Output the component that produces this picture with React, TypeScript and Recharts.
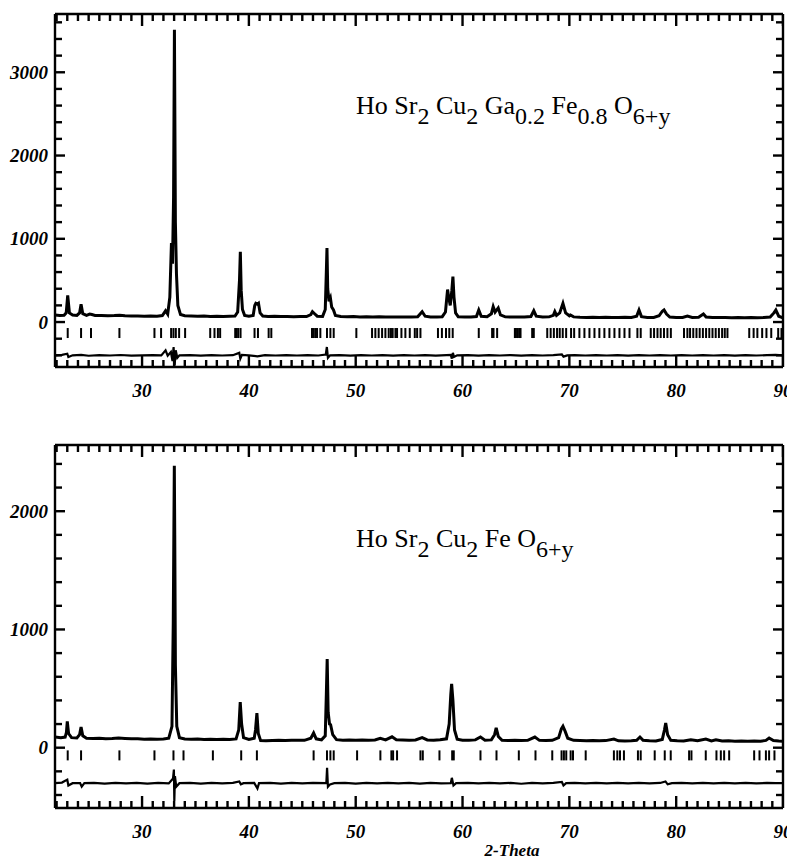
import React from 'react';
import { ComposedChart, Line, Scatter, XAxis, YAxis } from 'recharts';

// ---------- DATA ----------
const X_DOMAIN: [number, number] = [21.85, 90];
const X_TICKS: number[] = Array.from({ length: 69 }, (_, i) => 22 + i);
const X_LABELS: number[] = [30, 40, 50, 60, 70, 80, 90];

const TOP_Y_DOMAIN: [number, number] = [-540, 3700];
const TOP_Y_TICKS: number[] = Array.from({ length: 21 }, (_, i) => -400 + i * 200);
const TOP_Y_LABELS: number[] = [0, 1000, 2000, 3000];

const BOT_Y_DOMAIN: [number, number] = [-510, 2560];
const BOT_Y_TICKS: number[] = Array.from({ length: 15 }, (_, i) => -400 + i * 200);
const BOT_Y_LABELS: number[] = [0, 1000, 2000];

// HoSr2Cu2Ga0.2Fe0.8O6+y : observed/calculated profile [2theta, counts]
const topProfile: [number, number][] = [
  [21.85, 85], [22.3, 80], [22.7, 82], [22.9, 110], [23.04, 320], [23.2, 110], [23.5, 85], [23.9, 80],
  [24.15, 110], [24.29, 215], [24.45, 100], [24.8, 80], [25.1, 95], [25.3, 90], [25.6, 78], [26.2, 80],
  [26.8, 75], [27.4, 78], [27.9, 82], [28.4, 75], [29, 72], [29.6, 74], [30.2, 70], [30.8, 72], [31.4, 70],
  [31.9, 78], [32.2, 135], [32.4, 95], [32.6, 300], [32.75, 950], [32.85, 700], [32.95, 1500], [33.03, 3510],
  [33.12, 1200], [33.22, 580], [33.35, 200], [33.6, 90], [34.0, 75], [34.6, 72], [35.2, 70], [35.8, 72],
  [36.4, 68], [37, 70], [37.6, 68], [38.2, 70], [38.7, 72], [38.95, 120], [39.12, 500], [39.2, 845],
  [39.28, 380], [39.4, 150], [39.6, 80], [40.0, 70], [40.4, 80], [40.55, 200], [40.65, 225], [40.8, 215],
  [40.9, 225], [41.05, 110], [41.3, 72], [41.8, 68], [42.4, 70], [43, 66], [43.6, 68], [44.2, 65], [44.8, 68],
  [45.4, 66], [45.8, 90], [45.95, 125], [46.15, 100], [46.4, 70], [46.9, 68], [47.15, 150], [47.25, 600],
  [47.31, 890], [47.38, 400], [47.5, 250], [47.63, 290], [47.75, 180], [47.92, 145], [48.1, 80], [48.6, 66],
  [49.2, 64], [49.8, 66], [50.4, 62], [51, 64], [51.6, 60], [52.2, 64], [52.8, 62], [53.4, 60], [54, 62],
  [54.6, 60], [55.2, 62], [55.8, 64], [56.22, 125], [56.5, 70], [57, 60], [57.6, 62], [58.1, 64], [58.4, 120],
  [58.6, 390], [58.7, 300], [58.85, 200], [59.0, 380], [59.1, 545], [59.2, 300], [59.35, 110], [59.6, 62],
  [60.2, 60], [60.8, 62], [61.3, 66], [61.52, 145], [61.75, 70], [62.3, 64], [62.7, 100], [62.87, 185],
  [63.05, 120], [63.34, 170], [63.55, 85], [64, 62], [64.6, 60], [65.2, 62], [65.8, 60], [66.4, 66],
  [66.67, 135], [66.9, 70], [67.5, 60], [68.1, 62], [68.5, 80], [68.64, 125], [68.8, 80], [69.1, 110],
  [69.4, 225], [69.65, 110], [70.0, 75], [70.1, 85], [70.4, 62], [71, 58], [71.6, 56], [72.2, 58], [72.8, 56],
  [73.4, 58], [74, 55], [74.6, 56], [75.2, 58], [75.8, 56], [76.3, 70], [76.52, 145], [76.75, 65], [77.3, 56],
  [77.9, 56], [78.4, 75], [78.7, 130], [78.86, 145], [79.1, 95], [79.4, 60], [80, 55], [80.6, 56], [81.05, 72],
  [81.5, 56], [82.1, 58], [82.55, 96], [82.8, 60], [83.4, 56], [84, 54], [84.6, 55], [85.2, 52], [85.8, 54],
  [86.4, 52], [87, 54], [87.6, 52], [88.2, 55], [88.8, 60], [89.15, 110], [89.33, 145], [89.6, 70], [90, 50],
];

const topDifference: [number, number][] = [
  [21.85, -400], [22.5, -395], [23.0, -380], [23.1, -420], [23.5, -400], [24.3, -395], [25, -405], [26, -398],
  [27, -402], [28, -396], [29, -404], [30, -400], [31, -398], [31.8, -400], [32.2, -340], [32.4, -405],
  [32.7, -360], [32.85, -470], [32.95, -300], [33.05, -520], [33.15, -340], [33.3, -430], [33.5, -400],
  [34.5, -398], [35.5, -404], [36.5, -398], [37.5, -402], [38.5, -398], [39.1, -370], [39.2, -440],
  [39.35, -395], [40, -400], [40.8, -412], [41.5, -398], [42.5, -402], [43.5, -398], [44.5, -402],
  [45.5, -398], [46.5, -402], [47.2, -390], [47.3, -300], [47.4, -430], [47.6, -400], [48.5, -398],
  [49.5, -403], [50.5, -398], [51.5, -402], [52.5, -397], [53.5, -403], [54.5, -398], [55.5, -402],
  [56.5, -398], [57.5, -403], [58.5, -398], [58.9, -395], [59.0, -440], [59.1, -370], [59.2, -420],
  [59.5, -400], [60.5, -398], [61.5, -403], [62.5, -398], [63.5, -402], [64.5, -397], [65.5, -403],
  [66.5, -398], [67.5, -402], [68.5, -398], [69.3, -390], [69.45, -415], [69.8, -400], [70.5, -398],
  [71.5, -402], [72.5, -398], [73.5, -402], [74.5, -397], [75.5, -403], [76.5, -398], [77.5, -402],
  [78.5, -398], [79.5, -402], [80.5, -398], [81.5, -402], [82.5, -398], [83.5, -402], [84.5, -397],
  [85.5, -403], [86.5, -398], [87.5, -402], [88.5, -398], [89.3, -395], [90, -400],
];

const topBragg: number[] = [
  23.04, 24.29, 25.22, 27.88, 31.16, 31.78, 32.72, 32.94, 33.16, 33.47, 34.03, 36.38, 36.78, 37.1, 37.31,
  38.72, 38.85, 39.0, 39.22, 40.53, 40.85, 41.85, 42.1, 45.91, 46.06, 46.22, 46.38, 46.69, 47.31, 47.63,
  47.94, 50.06, 51.53, 51.84, 52.15, 52.47, 52.78, 53.09, 53.3, 53.46, 53.72, 53.87, 54.28, 54.65, 55.06,
  55.53, 55.75, 56.06, 57.7, 58.07, 58.45, 58.76, 59.08, 61.52, 62.77, 62.9, 63.24, 64.9, 65.0, 65.15,
  65.3, 65.43, 66.52, 66.67, 67.93, 68.25, 68.55, 68.85, 69.1, 69.38, 69.7, 70.16, 70.45, 70.94, 71.41,
  71.88, 72.35, 72.81, 73.28, 73.75, 74.22, 74.69, 75.16, 75.63, 76.37, 76.68, 77.62, 77.93, 78.25, 78.55,
  78.86, 79.18, 79.5, 80.73, 81.05, 81.3, 81.6, 81.9, 82.2, 82.5, 82.8, 83.1, 83.4, 83.7, 84.0, 84.3,
  84.55, 84.8, 86.84, 87.25, 87.6, 88.05, 88.45, 88.9, 89.55, 89.86,
];

// HoSr2Cu2FeO6+y
const botProfile: [number, number][] = [
  [21.85, 90], [22.4, 85], [22.8, 90], [22.92, 130], [23.0, 222], [23.12, 120], [23.4, 85], [23.9, 82],
  [24.15, 110], [24.29, 175], [24.45, 100], [24.8, 80], [25.4, 78], [26, 80], [26.6, 76], [27.2, 78],
  [27.8, 82], [28.4, 78], [29, 75], [29.6, 76], [30.2, 72], [30.8, 74], [31.4, 72], [32, 74], [32.5, 80],
  [32.8, 180], [32.92, 1050], [32.98, 1860], [33.02, 2385], [33.06, 1800], [33.12, 700], [33.25, 180],
  [33.5, 85], [34, 74], [34.6, 72], [35.2, 74], [35.8, 70], [36.4, 72], [37, 70], [37.6, 72], [38.2, 70],
  [38.8, 74], [39.05, 150], [39.19, 385], [39.32, 200], [39.5, 85], [40, 70], [40.5, 80], [40.62, 150],
  [40.75, 292], [40.88, 120], [41.1, 60], [41.6, 58], [42.2, 60], [42.8, 62], [43.4, 60], [44, 62],
  [44.6, 64], [45.2, 62], [45.8, 80], [46.06, 124], [46.3, 75], [46.8, 66], [47.15, 100], [47.25, 450],
  [47.33, 750], [47.42, 300], [47.55, 200], [47.65, 195], [47.85, 110], [48.2, 68], [48.8, 64], [49.4, 66],
  [50, 64], [50.6, 66], [51.2, 64], [51.8, 66], [52.3, 80], [52.8, 66], [53.4, 92], [53.8, 68], [54.4, 66],
  [55, 64], [55.6, 66], [56.22, 85], [56.7, 66], [57.3, 64], [57.9, 68], [58.5, 75], [58.75, 200],
  [58.9, 450], [58.98, 540], [59.1, 400], [59.25, 150], [59.5, 72], [60, 64], [60.6, 62], [61.2, 66],
  [61.68, 90], [62.1, 64], [62.7, 66], [63.0, 110], [63.15, 168], [63.35, 95], [63.7, 62], [64.3, 60],
  [64.9, 62], [65.5, 60], [66.1, 62], [66.77, 90], [67.2, 62], [67.8, 60], [68.4, 62], [69.0, 85],
  [69.25, 160], [69.4, 182], [69.6, 140], [69.85, 80], [70.4, 62], [71, 60], [71.6, 58], [72.2, 60],
  [72.8, 58], [73.4, 60], [74.17, 73], [74.6, 58], [75.2, 56], [75.8, 58], [76.3, 62], [76.61, 90],
  [76.9, 62], [77.5, 58], [78.1, 56], [78.7, 70], [78.9, 150], [79.02, 208], [79.2, 110], [79.5, 62],
  [80.1, 58], [80.7, 56], [81.37, 67], [82, 58], [82.78, 73], [83.3, 58], [83.72, 67], [84.3, 56],
  [84.9, 58], [85.5, 55], [86.1, 57], [86.7, 55], [87.3, 57], [87.9, 55], [88.4, 62], [88.7, 82],
  [89.1, 60], [89.6, 56], [90, 55],
];

const botDifference: [number, number][] = [
  [21.85, -300], [22.5, -295], [23.0, -270], [23.1, -320], [23.5, -300], [24.2, -300], [24.35, -330],
  [24.6, -300], [25.5, -298], [26.5, -303], [27.5, -297], [28.5, -302], [29.5, -298], [30.5, -303],
  [31.5, -298], [32.5, -302], [32.9, -260], [32.98, -185], [33.02, -450], [33.08, -240], [33.2, -330],
  [33.5, -300], [34.5, -297], [35.5, -303], [36.5, -298], [37.5, -302], [38.5, -298], [39.1, -285],
  [39.25, -310], [39.5, -300], [40.5, -298], [40.8, -345], [40.95, -300], [42, -298], [43, -303],
  [44, -298], [45, -302], [46, -298], [47.25, -300], [47.32, -170], [47.4, -330], [47.6, -310], [48, -300],
  [49, -298], [50, -303], [51, -298], [52, -302], [53, -298], [54, -302], [55, -297], [56, -303],
  [57, -298], [58, -302], [58.9, -300], [59.0, -255], [59.15, -320], [59.4, -300], [60.5, -298],
  [61.5, -302], [62.5, -298], [63.5, -302], [64.5, -298], [65.5, -305], [66.5, -298], [67.5, -302],
  [68.5, -298], [69.3, -290], [69.45, -320], [69.7, -300], [70.5, -298], [71.5, -302], [72.5, -298],
  [73.5, -302], [74.5, -298], [75.5, -302], [76.5, -298], [77.5, -302], [78.5, -298], [79.0, -285],
  [79.2, -310], [79.6, -300], [80.5, -298], [81.5, -302], [82.5, -298], [83.5, -302], [84.5, -298],
  [85.5, -302], [86.5, -298], [87.5, -302], [88.5, -298], [89.3, -300], [90, -300],
];

const botBragg: number[] = [
  23.04, 24.29, 27.88, 31.16, 32.94, 33.88, 36.63, 39.28, 40.75, 46.06, 47.31, 47.63, 47.94, 50.13,
  52.31, 53.34, 53.5, 53.87, 56.06, 56.28, 57.84, 59.03, 59.18, 61.68, 63.18, 65.27, 66.83, 68.4, 69.27,
  69.49, 69.71, 70.12, 70.34, 71.53, 74.17, 74.49, 74.74, 75.11, 76.42, 76.68, 77.99, 78.93, 79.49, 81.21,
  81.43, 82.77, 83.77, 84.18, 84.49, 84.96, 87.3, 87.8, 88.4, 88.7, 89.2,
];

const TOP_BRAGG_LEVEL = -132;
const BOT_BRAGG_LEVEL = -65;

// ---------- RENDER HELPERS ----------
const FONT = '"Liberation Serif", "Times New Roman", serif';
const toPoints = (arr: [number, number][]) => arr.map(([x, y]) => ({ x, y }));
const toBragg = (arr: number[], level: number) => arr.map((x) => ({ x, y: level }));

const labelStyle = {
  fontFamily: FONT,
  fontStyle: 'italic' as const,
  fontWeight: 700,
  fontSize: 19,
  fill: '#000',
};

const XLabel = (props: any) => {
  const { x, y, payload } = props;
  const v = payload.value;
  if (!X_LABELS.includes(v)) return <g />;
  return (
    <text x={x} y={Number(y) + 23} textAnchor="middle" dominantBaseline="central" style={labelStyle}>
      {v}
    </text>
  );
};

const makeYLabel = (labels: number[]) => (props: any) => {
  const { x, y, payload } = props;
  const v = payload.value;
  if (!labels.includes(v)) return <g />;
  return (
    <text x={Number(x) - 7} y={y} textAnchor="end" dominantBaseline="central" style={labelStyle}>
      {v}
    </text>
  );
};

// frame tick marks (drawn inward), positioned through the chart scales
const frameTick = (side: 'bottom' | 'top' | 'left' | 'right') => (props: any) => {
  const { cx, cy, payload } = props;
  let x2 = cx;
  let y2 = cy;
  if (side === 'bottom' || side === 'top') {
    const len = payload && payload.x % 10 === 0 ? 12 : 7;
    y2 = side === 'bottom' ? cy - len : cy + len;
  } else {
    const len = payload && payload.y % 1000 === 0 ? 10 : 7;
    x2 = side === 'left' ? cx + len : cx - len;
  }
  return <line x1={cx} y1={cy} x2={x2} y2={y2} stroke="#000" strokeWidth={2.4} />;
};

const BraggTick = (props: any) => {
  const { cx, cy } = props;
  return <line x1={cx} x2={cx} y1={cy - 5} y2={cy + 5} stroke="#000" strokeWidth={2} />;
};

interface PanelProps {
  height: number;
  marginTop: number;
  xAxisHeight: number;
  yDomain: [number, number];
  yTicks: number[];
  yLabels: number[];
  profile: [number, number][];
  diff: [number, number][];
  bragg: number[];
  braggLevel: number;
}

const Panel = (p: PanelProps) => {
  const [yMin, yMax] = p.yDomain;
  const [xMin, xMax] = X_DOMAIN;
  const bottomTicks = X_TICKS.map((x) => ({ x, y: yMin }));
  const topTicks = X_TICKS.map((x) => ({ x, y: yMax }));
  const leftTicks = p.yTicks.map((y) => ({ x: xMin, y }));
  const rightTicks = p.yTicks.map((y) => ({ x: xMax, y }));
  const common = { xAxisId: 'b', yAxisId: 'l', dataKey: 'y', isAnimationActive: false };
  return (
    <ComposedChart
      width={787}
      height={p.height}
      margin={{ top: p.marginTop, right: 11, bottom: 0, left: 0 }}
    >
      <XAxis
        xAxisId="b"
        type="number"
        dataKey="x"
        orientation="bottom"
        domain={X_DOMAIN}
        ticks={X_TICKS}
        interval={0}
        allowDataOverflow
        height={p.xAxisHeight}
        tickSize={0}
        tickMargin={0}
        tickLine={false}
        axisLine={{ stroke: '#000', strokeWidth: 2.4 }}
        tick={XLabel}
      />
      <XAxis
        xAxisId="t"
        type="number"
        dataKey="x"
        orientation="top"
        domain={X_DOMAIN}
        allowDataOverflow
        height={1}
        tickLine={false}
        tick={false}
        axisLine={{ stroke: '#000', strokeWidth: 2.4 }}
      />
      <YAxis
        yAxisId="l"
        type="number"
        orientation="left"
        domain={p.yDomain}
        ticks={p.yTicks}
        interval={0}
        allowDataOverflow
        width={47}
        tickSize={0}
        tickMargin={0}
        tickLine={false}
        axisLine={{ stroke: '#000', strokeWidth: 2.4 }}
        tick={makeYLabel(p.yLabels)}
      />
      <YAxis
        yAxisId="r"
        type="number"
        orientation="right"
        domain={p.yDomain}
        allowDataOverflow
        width={1}
        tickLine={false}
        tick={false}
        axisLine={{ stroke: '#000', strokeWidth: 2.4 }}
      />
      <Scatter {...common} data={bottomTicks} shape={frameTick('bottom')} />
      <Scatter {...common} data={topTicks} shape={frameTick('top')} />
      <Scatter {...common} data={leftTicks} shape={frameTick('left')} />
      <Scatter {...common} data={rightTicks} shape={frameTick('right')} />
      <Line
        xAxisId="t"
        yAxisId="r"
        data={toPoints(p.diff)}
        dataKey="y"
        type="linear"
        stroke="#000"
        strokeWidth={2.2}
        dot={false}
        isAnimationActive={false}
      />
      <Line
        xAxisId="b"
        yAxisId="l"
        data={toPoints(p.profile)}
        dataKey="y"
        type="linear"
        stroke="#000"
        strokeWidth={3}
        dot={false}
        isAnimationActive={false}
      />
      <Scatter {...common} data={toBragg(p.bragg, p.braggLevel)} shape={BraggTick} />
    </ComposedChart>
  );
};

const titleStyle = { fontFamily: FONT, fontSize: 26, fill: '#000' };
const Sub = ({ children }: { children: string }) => (
  <>
    <tspan dy={10} fontSize={24}>{children}</tspan>
    <tspan dy={-10}> </tspan>
  </>
);

export default function App() {
  return (
    <div style={{ position: 'relative', width: 787, height: 851 }}>
      <Panel
        height={412}
        marginTop={5}
        xAxisHeight={53}
        yDomain={TOP_Y_DOMAIN}
        yTicks={TOP_Y_TICKS}
        yLabels={TOP_Y_LABELS}
        profile={topProfile}
        diff={topDifference}
        bragg={topBragg}
        braggLevel={TOP_BRAGG_LEVEL}
      />
      <Panel
        height={439}
        marginTop={24}
        xAxisHeight={51}
        yDomain={BOT_Y_DOMAIN}
        yTicks={BOT_Y_TICKS}
        yLabels={BOT_Y_LABELS}
        profile={botProfile}
        diff={botDifference}
        bragg={botBragg}
        braggLevel={BOT_BRAGG_LEVEL}
      />
      <svg
        width={787}
        height={851}
        style={{ position: 'absolute', left: 0, top: 0, pointerEvents: 'none' }}
      >
        <text x={348} y={106} style={titleStyle}>
          <tspan>Ho Sr</tspan>
          <Sub>2</Sub>
          <tspan>Cu</tspan>
          <Sub>2</Sub>
          <tspan>Ga</tspan>
          <Sub>0.2</Sub>
          <tspan>Fe</tspan>
          <Sub>0.8</Sub>
          <tspan>O</tspan>
          <tspan dy={10} fontSize={24}>6+y</tspan>
        </text>
        <text x={348} y={539} style={titleStyle}>
          <tspan>Ho Sr</tspan>
          <Sub>2</Sub>
          <tspan>Cu</tspan>
          <Sub>2</Sub>
          <tspan>Fe O</tspan>
          <tspan dy={10} fontSize={24}>6+y</tspan>
        </text>
        <text
          x={504}
          y={842}
          textAnchor="middle"
          dominantBaseline="central"
          style={{ ...labelStyle, fontSize: 17 }}
        >
          2-Theta
        </text>
      </svg>
    </div>
  );
}
